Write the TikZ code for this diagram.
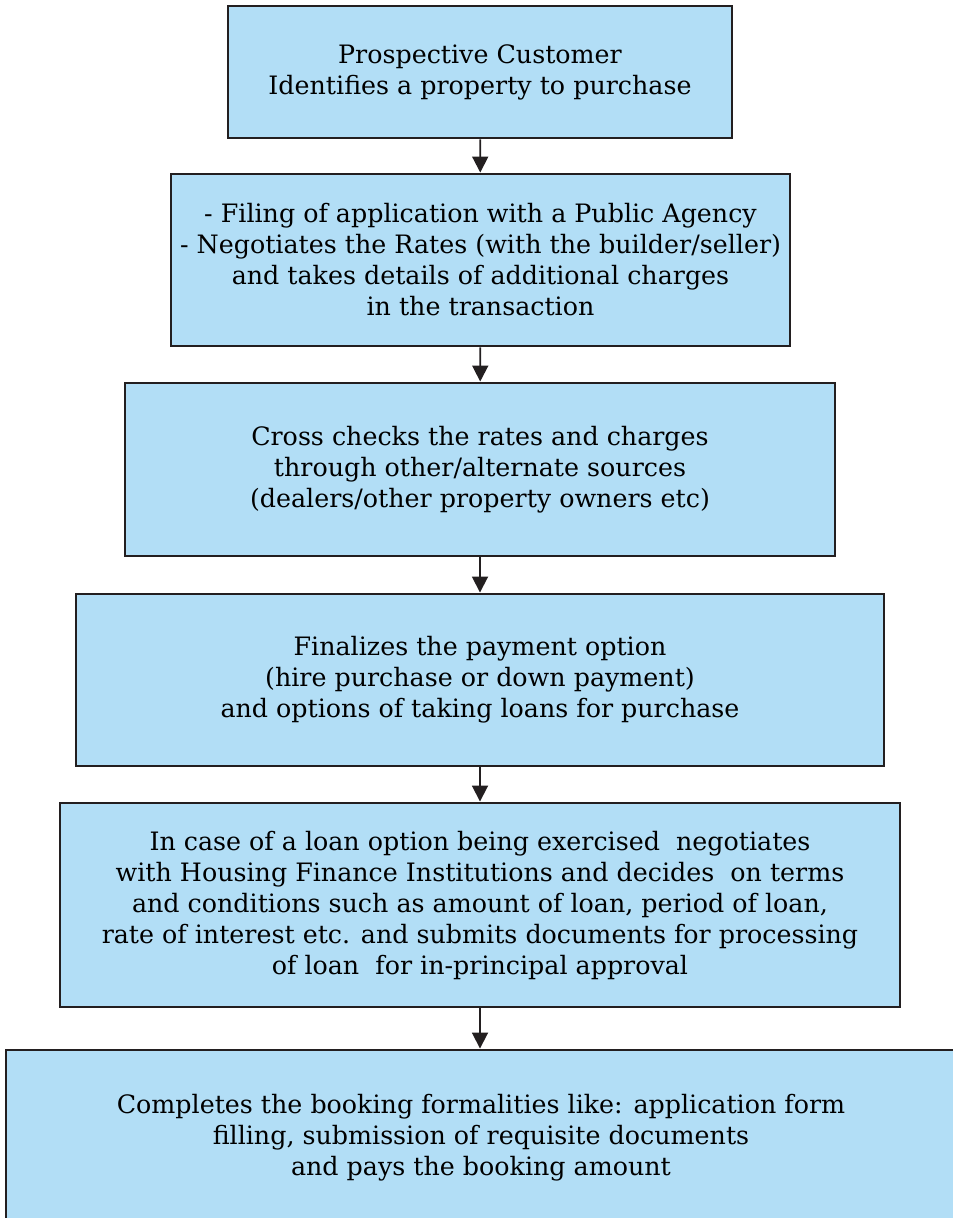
\documentclass[tikz,border=0pt]{standalone}
\usepackage{fontspec}
\setmainfont{DejaVu Serif}
\usetikzlibrary{arrows.meta}
\definecolor{boxblue}{RGB}{178,222,246}
\definecolor{boxline}{RGB}{35,31,32}
\tikzset{
  stagebox/.style={draw=boxline,fill=boxblue,line width=2.2pt,align=center,
    font=\fontsize{19}{23.25}\selectfont,inner sep=0pt},
  flow/.style={->,draw=boxline,line width=1.4pt}
}

\begin{document}
\begin{tikzpicture}[x=0.75pt,y=-0.75pt,>={Triangle[length=12pt,width=12pt]}]
\useasboundingbox (0,0) rectangle (953,1218);
\clip (0,0) rectangle (953,1218);
%
\node[stagebox,minimum width=504*0.75pt,minimum height=132*0.75pt] (customer) at (480,72)
  {Prospective Customer\\Identifies a property to purchase};
\node[stagebox,minimum width=619*0.75pt,minimum height=172*0.75pt] (filing) at (480.5,260)
  {- Filing of application with a Public Agency\\- Negotiates the Rates (with the builder/seller)\\and takes details of additional charges\\in the transaction};
\node[stagebox,minimum width=710*0.75pt,minimum height=173*0.75pt] (crosscheck) at (480,469.5)
  {Cross checks the rates and charges\\through other/alternate sources\\(dealers/other property owners etc)};
\node[stagebox,minimum width=808*0.75pt,minimum height=172*0.75pt] (payment) at (480,680)
  {Finalizes the payment option\\(hire purchase or down payment)\\and options of taking loans for purchase};
\node[stagebox,minimum width=840*0.75pt,minimum height=204*0.75pt] (loan) at (480,905)
  {In case of a loan option being exercised\ \ negotiates\\with Housing Finance Institutions and decides\ \ on terms\\and conditions such as amount of loan, period of loan,\\rate of interest etc. and submits documents for processing\\of loan\ \ for in-principal approval};
\node[stagebox,minimum width=950*0.75pt,minimum height=176*0.75pt] (booking) at (481,1138)
  {Completes the booking formalities like: application form\\filling, submission of requisite documents\\and pays the booking amount};
%
\draw[flow] (customer) -- (filing);
\draw[flow] (filing) -- (crosscheck);
\draw[flow] (crosscheck) -- (payment);
\draw[flow] (payment) -- (loan);
\draw[flow] (loan.south) -- (loan.south |- booking.north);
\end{tikzpicture}
\end{document}
